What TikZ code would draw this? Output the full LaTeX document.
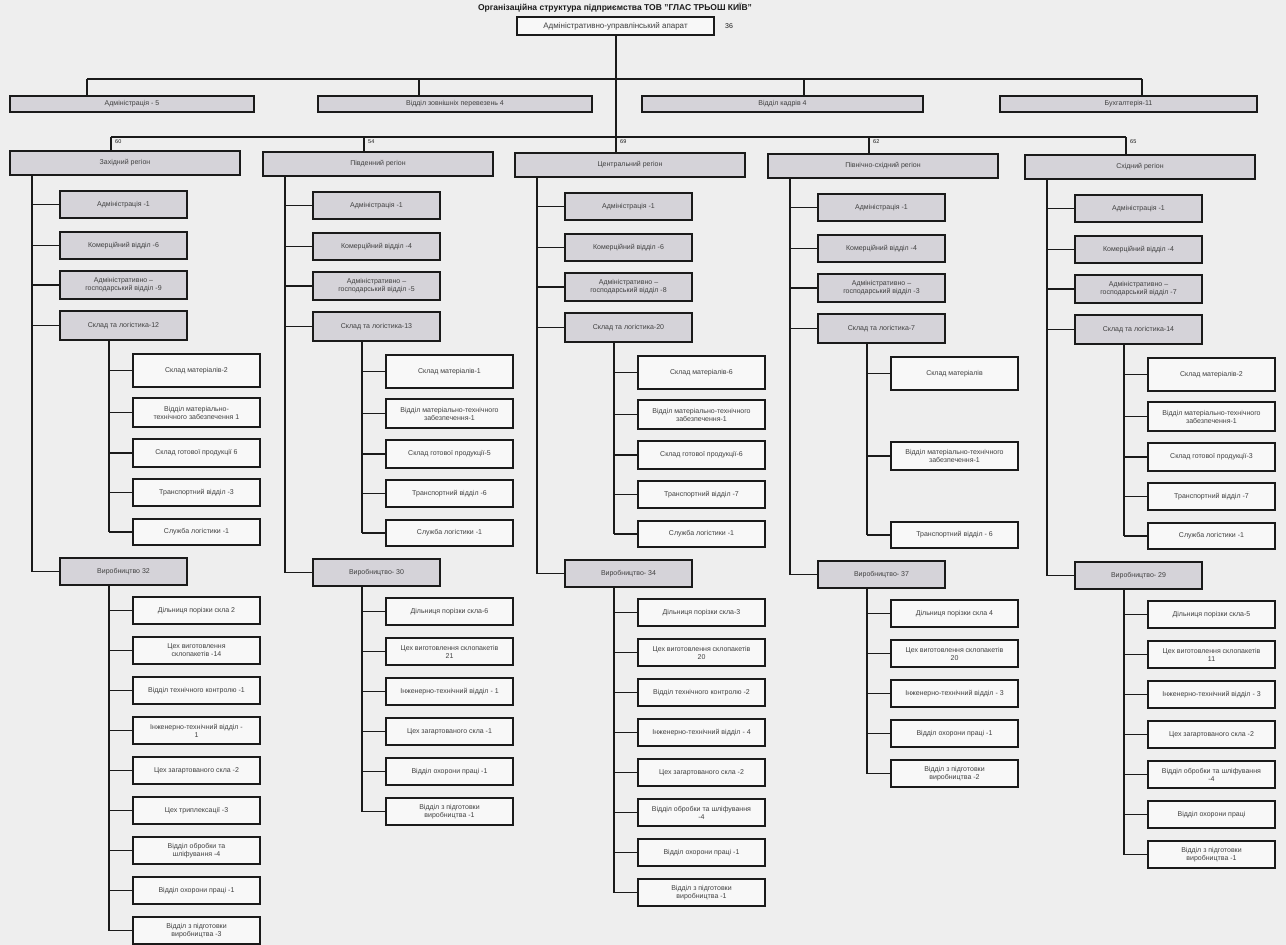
\documentclass[tikz,border=0pt]{standalone}
\usepackage{fontspec}
\setmainfont{Liberation Sans}
\usetikzlibrary{shadows}
\definecolor{bg}{HTML}{EEEEEE}
\definecolor{gfill}{HTML}{D5D3D9}
\definecolor{wfill}{HTML}{F8F8F8}
\definecolor{ink}{HTML}{1A1A1A}
\tikzset{
  box/.style={draw=ink, line width=1.1pt, inner sep=1pt, align=center,
    font=\fontsize{7}{8}\selectfont, text=black!75,
    drop shadow={shadow xshift=1.3pt, shadow yshift=-1.3pt, opacity=1, fill=ink}},
  gbox/.style={box, fill=gfill},
  wbox/.style={box, fill=wfill},
  conn/.style={draw=ink, line width=1.2pt},
  num/.style={font=\fontsize{5.5}{6}\selectfont, text=ink, inner sep=0pt},
}
\newcommand\bx[7]{\node[#2, minimum width={(#5)-(#3)}, minimum height={(#6)-(#4)}] (#1) at ({((#3)+(#5))/2},{((#4)+(#6))/2}) {#7};}
\newcommand\lvtwo[4]{\bx{\cid#1}{gbox}{\L+50}{#2+\D}{\L+177}{#3+\D}{#4}\draw[conn] (\cid t |- \cid#1.west) -- (\cid#1.west);}
\newcommand\subbx[4]{\bx{\cid#1}{wbox}{\L+123}{#2+\D}{\L+250}{#3+\D}{#4}\draw[conn] (\cid s |- \cid#1.west) -- (\cid#1.west);}
\newcommand\prodbx[3]{\bx{\cid#1}{wbox}{\L+123}{597+40*#2+\D}{\L+250}{624+40*#2+\D}{#3}\draw[conn] (\cid p |- \cid#1.west) -- (\cid#1.west);}
\newcommand\colhead[3]{%
  \coordinate (\cid d) at ({\L+101},137);
  \coordinate (\cid t) at ({\L+22},0);
  \coordinate (\cid s) at ({\L+99},0);
  \coordinate (\cid p) at ({\L+99},0);
  \bx{\cid r}{gbox}{\L}{151+\D}{\L+230}{175+\D}{#1}
  \draw[conn] (\cid d) -- (\cid d |- \cid r.north);
  \node[num, anchor=north west] (\cid n) at ([xshift=4pt,yshift=-2.5pt]\cid d) {#2};
  \lvtwo{a}{191}{218}{Адміністрація -1}
  \lvtwo{b}{232}{259}{Комерційний відділ -#3}
}
\begin{document}
\begin{tikzpicture}[x=1pt,y=-1pt]
\path[use as bounding box, fill=bg] (0,0) rectangle (1286,945);

\node[font=\bfseries\fontsize{8.5}{10}\selectfont, text=ink] (title) at (615,8) {Організаційна структура підприємства ТОВ "ГЛАС ТРЬОШ КИЇВ"};
\bx{top}{wbox}{517}{17}{714}{35}{\fontsize{8}{9}\selectfont Адміністративно-управлінський апарат}
\node[num, font=\fontsize{7}{8}\selectfont] (topn) at (729,26) {36};

\coordinate (k1) at (87,79);
\coordinate (k2) at (419,79);
\coordinate (k3) at (804,79);
\coordinate (k4) at (1142,79);
\bx{h1}{gbox}{10}{96}{254}{112}{Адміністрація - 5}
\bx{h2}{gbox}{318}{96}{592}{112}{Відділ зовнішніх перевезень 4}
\bx{h3}{gbox}{642}{96}{923}{112}{Відділ кадрів 4}
\bx{h4}{gbox}{1000}{96}{1257}{112}{Бухгалтерія-11}
\draw[conn] (k1) -- (k4);
\draw[conn] (k1) -- (h1.north -| k1);
\draw[conn] (k2) -- (h2.north -| k2);
\draw[conn] (k3) -- (h3.north -| k3);
\draw[conn] (k4) -- (h4.north -| k4);

% ---------- column 1
\def\cid{c1}\def\L{10}\def\D{0}
\colhead{Західний регіон}{60}{6}
\lvtwo{c}{271}{299}{Адміністративно –\\господарський відділ -9}
\lvtwo{S}{311}{340}{Склад та логістика-12}
\subbx{s1}{354}{387}{Склад матеріалів-2}
\subbx{s2}{398}{427}{Відділ матеріально-\\технічного забезпечення 1}
\subbx{s3}{439}{467}{Склад готової продукції 6}
\subbx{s4}{479}{506}{Транспортний відділ -3}
\subbx{s5}{519}{545}{Служба логістики -1}
\lvtwo{V}{558}{585}{Виробництво 32}
\prodbx{p0}{0}{Дільниця порізки скла 2}
\prodbx{p1}{1}{Цех виготовлення\\склопакетів -14}
\prodbx{p2}{2}{Відділ технічного контролю -1}
\prodbx{p3}{3}{Інженерно-технічний відділ -\\1}
\prodbx{p4}{4}{Цех загартованого скла -2}
\prodbx{p5}{5}{Цех триплексації -3}
\prodbx{p6}{6}{Відділ обробки та\\шліфування -4}
\prodbx{p7}{7}{Відділ охорони праці -1}
\prodbx{p8}{8}{Відділ з підготовки\\виробництва -3}
\draw[conn] (c1r.south -| c1t) -- (c1t |- c1V.west);
\draw[conn] (c1S.south -| c1s) -- (c1s |- c1s5.west);
\draw[conn] (c1V.south -| c1p) -- (c1p |- c1p8.west);

% ---------- column 2
\def\cid{c2}\def\L{263}\def\D{1}
\colhead{Південний регіон}{54}{4}
\lvtwo{c}{271}{299}{Адміністративно –\\господарський відділ -5}
\lvtwo{S}{311}{340}{Склад та логістика-13}
\subbx{s1}{354}{387}{Склад матеріалів-1}
\subbx{s2}{398}{427}{Відділ матеріально-технічного\\забезпечення-1}
\subbx{s3}{439}{467}{Склад готової продукції-5}
\subbx{s4}{479}{506}{Транспортний відділ -6}
\subbx{s5}{519}{545}{Служба логістики -1}
\lvtwo{V}{558}{585}{Виробництво- 30}
\prodbx{p0}{0}{Дільниця порізки скла-6}
\prodbx{p1}{1}{Цех виготовлення склопакетів\\21}
\prodbx{p2}{2}{Інженерно-технічний відділ - 1}
\prodbx{p3}{3}{Цех загартованого скла -1}
\prodbx{p4}{4}{Відділ охорони праці -1}
\prodbx{p5}{5}{Відділ з підготовки\\виробництва -1}
\draw[conn] (c2r.south -| c2t) -- (c2t |- c2V.west);
\draw[conn] (c2S.south -| c2s) -- (c2s |- c2s5.west);
\draw[conn] (c2V.south -| c2p) -- (c2p |- c2p5.west);

% ---------- column 3
\def\cid{c3}\def\L{515}\def\D{2}
\colhead{Центральний регіон}{69}{6}
\lvtwo{c}{271}{299}{Адміністративно –\\господарський відділ -8}
\lvtwo{S}{311}{340}{Склад та логістика-20}
\subbx{s1}{354}{387}{Склад матеріалів-6}
\subbx{s2}{398}{427}{Відділ матеріально-технічного\\забезпечення-1}
\subbx{s3}{439}{467}{Склад готової продукції-6}
\subbx{s4}{479}{506}{Транспортний відділ -7}
\subbx{s5}{519}{545}{Служба логістики -1}
\lvtwo{V}{558}{585}{Виробництво- 34}
\prodbx{p0}{0}{Дільниця порізки скла-3}
\prodbx{p1}{1}{Цех виготовлення склопакетів\\20}
\prodbx{p2}{2}{Відділ технічного контролю -2}
\prodbx{p3}{3}{Інженерно-технічний відділ - 4}
\prodbx{p4}{4}{Цех загартованого скла -2}
\prodbx{p5}{5}{Відділ обробки та шліфування\\-4}
\prodbx{p6}{6}{Відділ охорони праці -1}
\prodbx{p7}{7}{Відділ з підготовки\\виробництва -1}
\draw[conn] (c3r.south -| c3t) -- (c3t |- c3V.west);
\draw[conn] (c3S.south -| c3s) -- (c3s |- c3s5.west);
\draw[conn] (c3V.south -| c3p) -- (c3p |- c3p7.west);

% ---------- column 4
\def\cid{c4}\def\L{768}\def\D{3}
\colhead{Північно-східний регіон}{62}{4}
\lvtwo{c}{271}{299}{Адміністративно –\\господарський відділ -3}
\lvtwo{S}{311}{340}{Склад та логістика-7}
\subbx{s1}{354}{387}{Склад матеріалів}
\subbx{s2}{439}{467}{Відділ матеріально-технічного\\забезпечення-1}
\subbx{s3}{519}{545}{Транспортний відділ - 6}
\lvtwo{V}{558}{585}{Виробництво- 37}
\prodbx{p0}{0}{Дільниця порізки скла 4}
\prodbx{p1}{1}{Цех виготовлення склопакетів\\20}
\prodbx{p2}{2}{Інженерно-технічний відділ - 3}
\prodbx{p3}{3}{Відділ охорони праці -1}
\prodbx{p4}{4}{Відділ з підготовки\\виробництва -2}
\draw[conn] (c4r.south -| c4t) -- (c4t |- c4V.west);
\draw[conn] (c4S.south -| c4s) -- (c4s |- c4s3.west);
\draw[conn] (c4V.south -| c4p) -- (c4p |- c4p4.west);

% ---------- column 5
\def\cid{c5}\def\L{1025}\def\D{4}
\colhead{Східний регіон}{65}{4}
\lvtwo{c}{271}{299}{Адміністративно –\\господарський відділ -7}
\lvtwo{S}{311}{340}{Склад та логістика-14}
\subbx{s1}{354}{387}{Склад матеріалів-2}
\subbx{s2}{398}{427}{Відділ матеріально-технічного\\забезпечення-1}
\subbx{s3}{439}{467}{Склад готової продукції-3}
\subbx{s4}{479}{506}{Транспортний відділ -7}
\subbx{s5}{519}{545}{Служба логістики -1}
\lvtwo{V}{558}{585}{Виробництво- 29}
\prodbx{p0}{0}{Дільниця порізки скла-5}
\prodbx{p1}{1}{Цех виготовлення склопакетів\\11}
\prodbx{p2}{2}{Інженерно-технічний відділ - 3}
\prodbx{p3}{3}{Цех загартованого скла -2}
\prodbx{p4}{4}{Відділ обробки та шліфування\\-4}
\prodbx{p5}{5}{Відділ охорони праці}
\prodbx{p6}{6}{Відділ з підготовки\\виробництва -1}
\draw[conn] (c5r.south -| c5t) -- (c5t |- c5V.west);
\draw[conn] (c5S.south -| c5s) -- (c5s |- c5s5.west);
\draw[conn] (c5V.south -| c5p) -- (c5p |- c5p6.west);

% ---------- region bus and central line
\draw[conn] (c1d) -- (c5d);
\draw[conn] (top.south -| c3d) -- (c3d);
\end{tikzpicture}
\end{document}
